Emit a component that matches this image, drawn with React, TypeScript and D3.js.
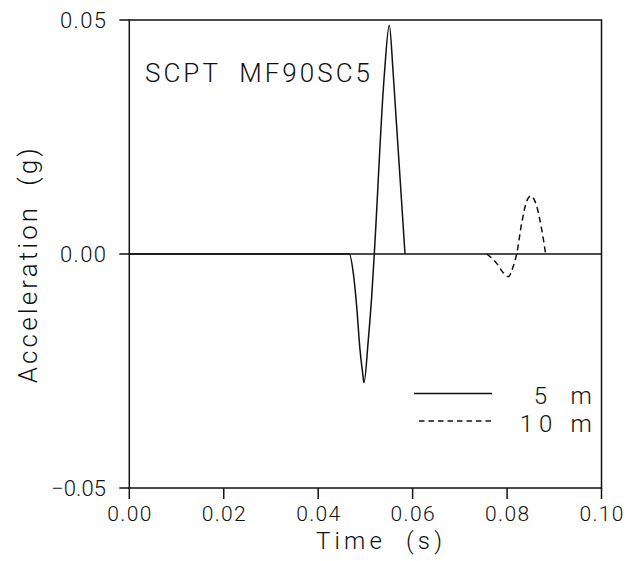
import React from "react";
import * as d3 from "d3";

const timeTicks = [0, 0.02, 0.04, 0.06, 0.08, 0.1];
const accTicks = [-0.05, 0, 0.05];

const time5 = [0, 0.04659, 0.04744, 0.04816, 0.04886, 0.04939, 0.0497, 0.05061, 0.05133, 0.05188, 0.054, 0.05506, 0.05591, 0.05839];
const acc5 = [0, 0, -0.0041, -0.0113, -0.0205, -0.0252, -0.0275, -0.0184, -0.0091, 0, 0.0382, 0.0489, 0.0382, 0];

const time10 = [0.07569, 0.07781, 0.0792, 0.08026, 0.08132, 0.08204, 0.0831, 0.08416, 0.08501, 0.08628, 0.08734, 0.08818];
const acc10 = [0, -0.002, -0.004, -0.00485, -0.0026, 0, 0.0066, 0.0113, 0.0124, 0.0102, 0.0052, 0];

const seriesLabels = ["5 m", "10 m"];
const title = "SCPT  MF90SC5";

const FONT = "Roboto, 'Liberation Sans', sans-serif";
const INK = "#111";

export default function App() {
  const x = d3.scaleLinear().domain([0, 0.1]).range([129.3, 601.5]);
  const y = d3.scaleLinear().domain([-0.05, 0.05]).range([488, 20]);
  const fmt = d3.format(".2f");

  const line = d3
    .line<[number, number]>()
    .x((d) => x(d[0]))
    .y((d) => y(d[1]))
    .curve(d3.curveMonotoneX);

  const d5 = line(time5.map((t, i) => [t, acc5[i]] as [number, number])) || "";
  const d10 = line(time10.map((t, i) => [t, acc10[i]] as [number, number])) || "";

  const [x0, x1] = x.range();
  const [yb, yt] = y.range();

  return (
    <svg width={640} height={561} style={{ position: "absolute", left: 0, top: 0, background: "#fff" }}>
      <rect x={0} y={0} width={640} height={561} fill="#fff" />
      <rect x={x0} y={yt} width={x1 - x0} height={yb - yt} fill="none" stroke={INK} strokeWidth={1.5} />
      <line x1={x0} x2={x1} y1={y(0)} y2={y(0)} stroke={INK} strokeWidth={1.5} />
      {accTicks.map((v) => (
        <g key={"y" + v}>
          <line x1={x0 - 10} x2={x0} y1={y(v)} y2={y(v)} stroke={INK} strokeWidth={1.5} />
          <text x={106} y={y(v)} dy="0.36em" textAnchor="end" fontSize={22} fontFamily={FONT} fontWeight={300} fill={INK} textLength={fmt(v).length > 4 ? 55 : 46} lengthAdjust="spacing">
            {fmt(v)}
          </text>
        </g>
      ))}
      {timeTicks.map((v) => (
        <g key={"x" + v}>
          <line x1={x(v)} x2={x(v)} y1={yb} y2={yb + 11} stroke={INK} strokeWidth={1.5} />
          <text x={x(v)} y={520.5} textAnchor="middle" fontSize={21} fontFamily={FONT} fontWeight={300} fill={INK} textLength={44} lengthAdjust="spacing">
            {fmt(v)}
          </text>
        </g>
      ))}
      <text x={379} y={548.5} textAnchor="middle" fontSize={24} fontFamily={FONT} fontWeight={300} fill={INK} textLength={126} lengthAdjust="spacing" style={{ whiteSpace: "pre" }}>
        {"Time  (s)"}
      </text>
      <text
        transform="translate(36.7,265.8) rotate(-90)"
        x={0}
        y={0}
        textAnchor="middle"
        fontSize={26}
        fontFamily={FONT}
        fontWeight={300}
        fill={INK}
        textLength={235}
        lengthAdjust="spacing"
        style={{ whiteSpace: "pre" }}
      >
        {"Acceleration  (g)"}
      </text>
      <text x={145} y={81.5} fontSize={26} fontFamily={FONT} fontWeight={300} fill={INK} textLength={225} lengthAdjust="spacing" style={{ whiteSpace: "pre" }}>
        {title}
      </text>
      <path d={d5} fill="none" stroke={INK} strokeWidth={1.5} />
      <path d={d10} fill="none" stroke={INK} strokeWidth={1.5} strokeDasharray="6,4" />
      <line x1={414} x2={492} y1={393.5} y2={393.5} stroke={INK} strokeWidth={1.5} />
      <line x1={419} x2={492} y1={421} y2={421} stroke={INK} strokeWidth={1.5} strokeDasharray="5.5,4" />
      <text x={591.7} y={403.5} textAnchor="end" fontSize={24} fontFamily={FONT} fontWeight={300} fill={INK} textLength={58} lengthAdjust="spacing" style={{ whiteSpace: "pre" }}>
        {seriesLabels[0]}
      </text>
      <text x={591.7} y={432} textAnchor="end" fontSize={24} fontFamily={FONT} fontWeight={300} fill={INK} textLength={72} lengthAdjust="spacing" style={{ whiteSpace: "pre" }}>
        {seriesLabels[1]}
      </text>
    </svg>
  );
}
